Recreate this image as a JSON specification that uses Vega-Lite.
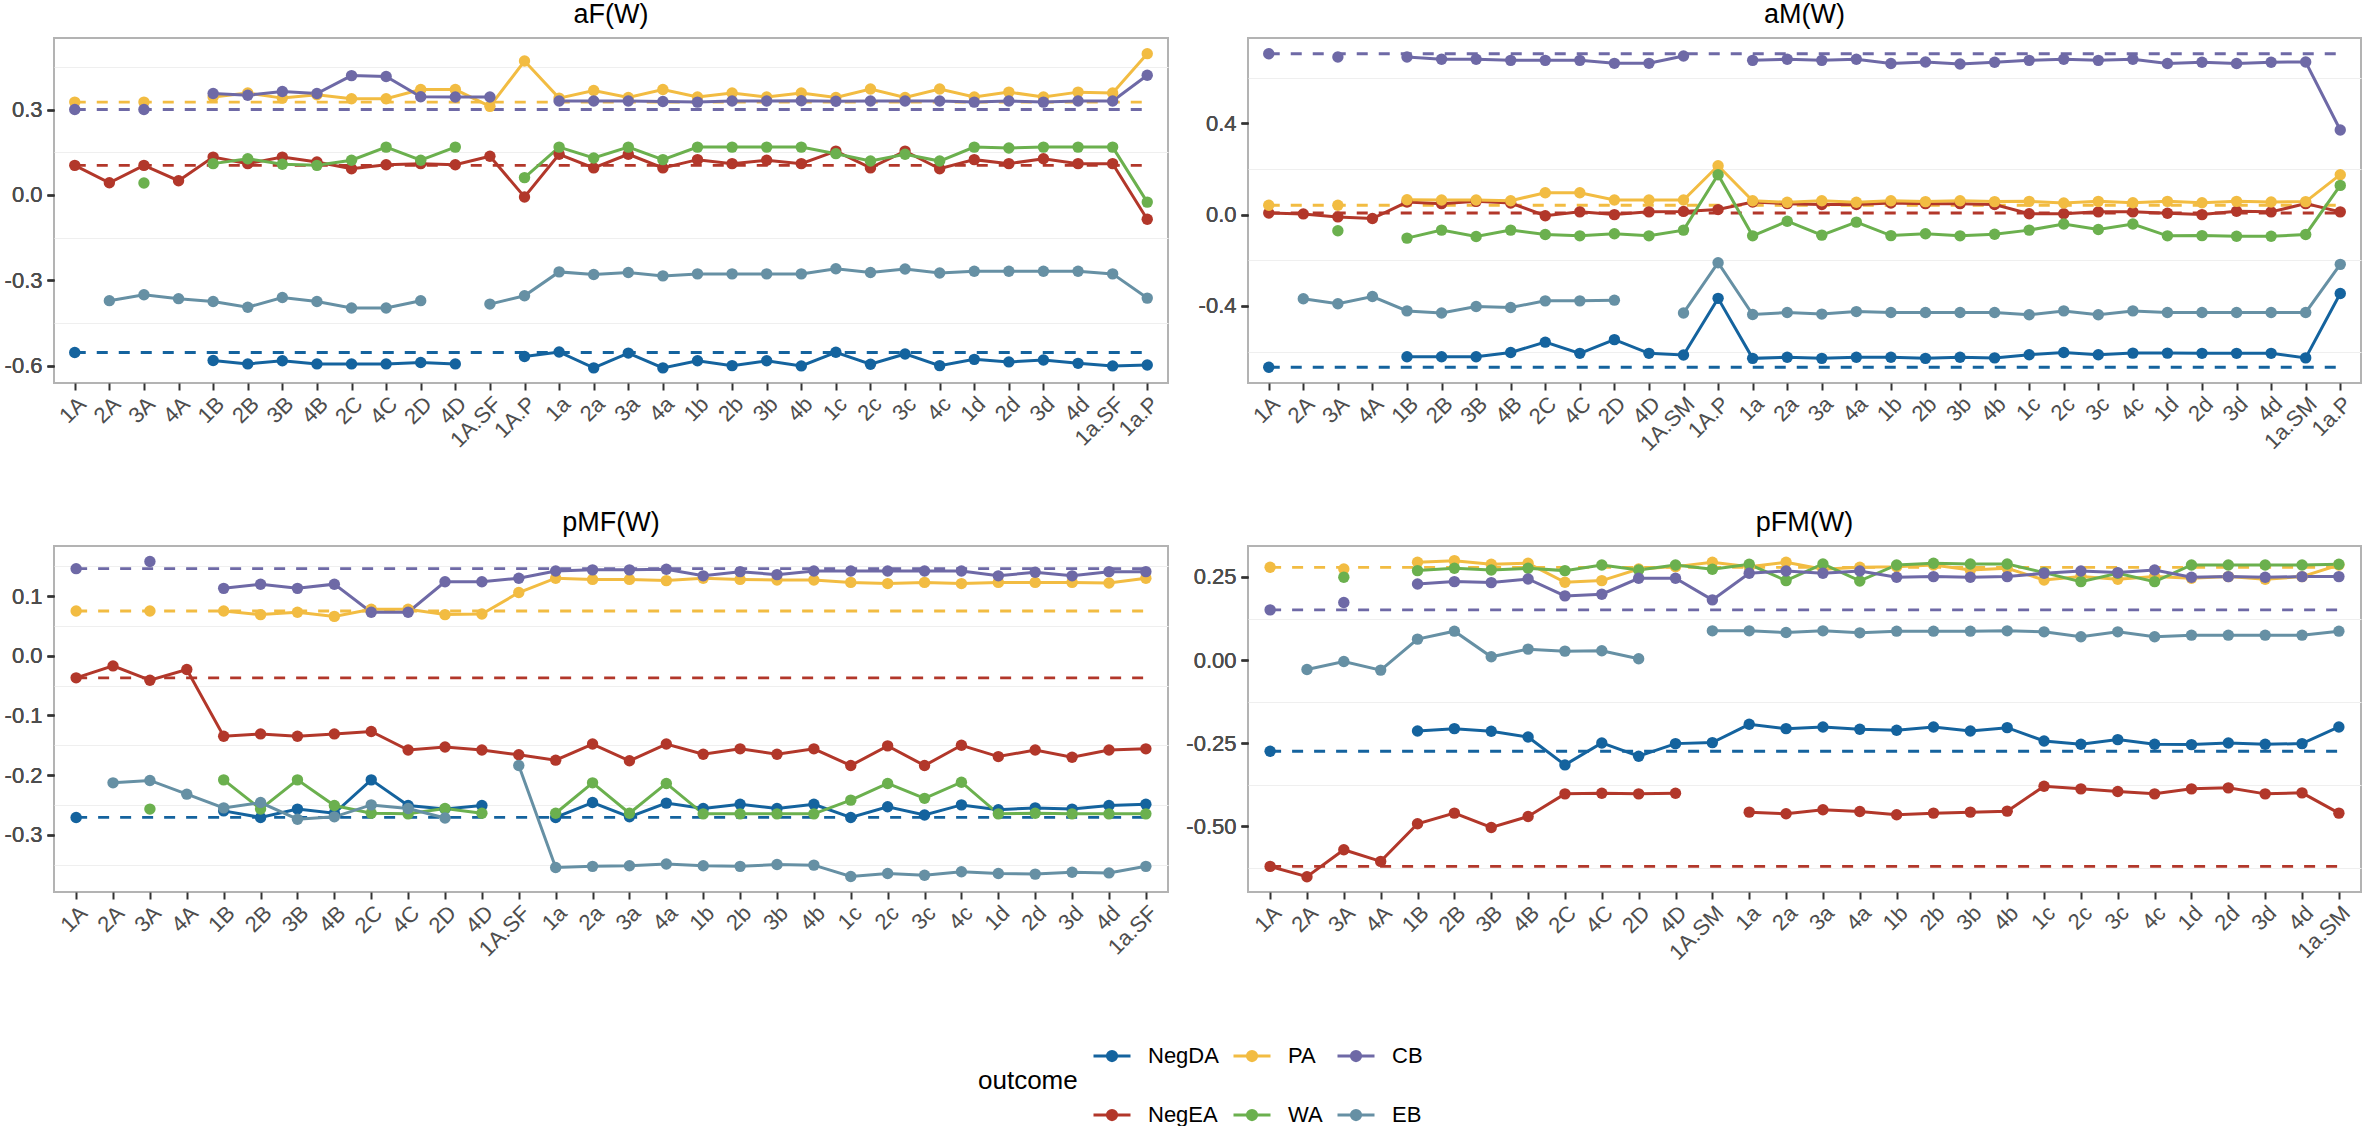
{
  "$schema": "https://vega.github.io/schema/vega-lite/v6.json",
  "background": "white",
  "padding": {"left": 3, "top": 0, "right": 0, "bottom": 0},
  "datasets": {
    "aF": [
      {"x":"1A","o":"NegDA","v":-0.553},{"x":"2A","o":"NegDA","v":null},{"x":"3A","o":"NegDA","v":null},{"x":"4A","o":"NegDA","v":null},
      {"x":"1B","o":"NegDA","v":-0.581},{"x":"2B","o":"NegDA","v":-0.593},{"x":"3B","o":"NegDA","v":-0.582},{"x":"4B","o":"NegDA","v":-0.593},
      {"x":"2C","o":"NegDA","v":-0.593},{"x":"4C","o":"NegDA","v":-0.593},{"x":"2D","o":"NegDA","v":-0.588},{"x":"4D","o":"NegDA","v":-0.593},
      {"x":"1A.SF","o":"NegDA","v":null},{"x":"1A.P","o":"NegDA","v":-0.567},{"x":"1a","o":"NegDA","v":-0.551},{"x":"2a","o":"NegDA","v":-0.607},
      {"x":"3a","o":"NegDA","v":-0.555},{"x":"4a","o":"NegDA","v":-0.607},{"x":"1b","o":"NegDA","v":-0.582},{"x":"2b","o":"NegDA","v":-0.599},
      {"x":"3b","o":"NegDA","v":-0.582},{"x":"4b","o":"NegDA","v":-0.600},{"x":"1c","o":"NegDA","v":-0.552},{"x":"2c","o":"NegDA","v":-0.594},
      {"x":"3c","o":"NegDA","v":-0.558},{"x":"4c","o":"NegDA","v":-0.599},{"x":"1d","o":"NegDA","v":-0.577},{"x":"2d","o":"NegDA","v":-0.586},
      {"x":"3d","o":"NegDA","v":-0.579},{"x":"4d","o":"NegDA","v":-0.591},{"x":"1a.SF","o":"NegDA","v":-0.600},{"x":"1a.P","o":"NegDA","v":-0.597},

      {"x":"1A","o":"NegEA","v":0.104},{"x":"2A","o":"NegEA","v":0.043},{"x":"3A","o":"NegEA","v":0.104},{"x":"4A","o":"NegEA","v":0.050},
      {"x":"1B","o":"NegEA","v":0.133},{"x":"2B","o":"NegEA","v":0.110},{"x":"3B","o":"NegEA","v":0.133},{"x":"4B","o":"NegEA","v":0.116},
      {"x":"2C","o":"NegEA","v":0.092},{"x":"4C","o":"NegEA","v":0.106},{"x":"2D","o":"NegEA","v":0.110},{"x":"4D","o":"NegEA","v":0.106},
      {"x":"1A.SF","o":"NegEA","v":0.136},{"x":"1A.P","o":"NegEA","v":-0.007},{"x":"1a","o":"NegEA","v":0.143},{"x":"2a","o":"NegEA","v":0.095},
      {"x":"3a","o":"NegEA","v":0.143},{"x":"4a","o":"NegEA","v":0.095},{"x":"1b","o":"NegEA","v":0.124},{"x":"2b","o":"NegEA","v":0.110},
      {"x":"3b","o":"NegEA","v":0.122},{"x":"4b","o":"NegEA","v":0.110},{"x":"1c","o":"NegEA","v":0.154},{"x":"2c","o":"NegEA","v":0.095},
      {"x":"3c","o":"NegEA","v":0.154},{"x":"4c","o":"NegEA","v":0.092},{"x":"1d","o":"NegEA","v":0.124},{"x":"2d","o":"NegEA","v":0.110},
      {"x":"3d","o":"NegEA","v":0.127},{"x":"4d","o":"NegEA","v":0.110},{"x":"1a.SF","o":"NegEA","v":0.110},{"x":"1a.P","o":"NegEA","v":-0.085},

      {"x":"1A","o":"PA","v":0.326},{"x":"2A","o":"PA","v":null},{"x":"3A","o":"PA","v":0.326},{"x":"4A","o":"PA","v":null},
      {"x":"1B","o":"PA","v":0.344},{"x":"2B","o":"PA","v":0.358},{"x":"3B","o":"PA","v":0.340},{"x":"4B","o":"PA","v":0.352},
      {"x":"2C","o":"PA","v":0.338},{"x":"4C","o":"PA","v":0.338},{"x":"2D","o":"PA","v":0.370},{"x":"4D","o":"PA","v":0.370},
      {"x":"1A.SF","o":"PA","v":0.311},{"x":"1A.P","o":"PA","v":0.470},{"x":"1a","o":"PA","v":0.340},{"x":"2a","o":"PA","v":0.367},
      {"x":"3a","o":"PA","v":0.342},{"x":"4a","o":"PA","v":0.370},{"x":"1b","o":"PA","v":0.344},{"x":"2b","o":"PA","v":0.358},
      {"x":"3b","o":"PA","v":0.344},{"x":"4b","o":"PA","v":0.358},{"x":"1c","o":"PA","v":0.342},{"x":"2c","o":"PA","v":0.372},
      {"x":"3c","o":"PA","v":0.342},{"x":"4c","o":"PA","v":0.372},{"x":"1d","o":"PA","v":0.344},{"x":"2d","o":"PA","v":0.361},
      {"x":"3d","o":"PA","v":0.344},{"x":"4d","o":"PA","v":0.361},{"x":"1a.SF","o":"PA","v":0.358},{"x":"1a.P","o":"PA","v":0.496},

      {"x":"1A","o":"WA","v":null},{"x":"2A","o":"WA","v":null},{"x":"3A","o":"WA","v":0.042},{"x":"4A","o":"WA","v":null},
      {"x":"1B","o":"WA","v":0.110},{"x":"2B","o":"WA","v":0.127},{"x":"3B","o":"WA","v":0.108},{"x":"4B","o":"WA","v":0.104},
      {"x":"2C","o":"WA","v":0.122},{"x":"4C","o":"WA","v":0.168},{"x":"2D","o":"WA","v":0.122},{"x":"4D","o":"WA","v":0.168},
      {"x":"1A.SF","o":"WA","v":null},{"x":"1A.P","o":"WA","v":0.061},{"x":"1a","o":"WA","v":0.168},{"x":"2a","o":"WA","v":0.130},
      {"x":"3a","o":"WA","v":0.168},{"x":"4a","o":"WA","v":0.124},{"x":"1b","o":"WA","v":0.168},{"x":"2b","o":"WA","v":0.168},
      {"x":"3b","o":"WA","v":0.168},{"x":"4b","o":"WA","v":0.168},{"x":"1c","o":"WA","v":0.145},{"x":"2c","o":"WA","v":0.119},
      {"x":"3c","o":"WA","v":0.143},{"x":"4c","o":"WA","v":0.119},{"x":"1d","o":"WA","v":0.168},{"x":"2d","o":"WA","v":0.165},
      {"x":"3d","o":"WA","v":0.168},{"x":"4d","o":"WA","v":0.168},{"x":"1a.SF","o":"WA","v":0.168},{"x":"1a.P","o":"WA","v":-0.025},

      {"x":"1A","o":"CB","v":0.300},{"x":"2A","o":"CB","v":null},{"x":"3A","o":"CB","v":0.300},{"x":"4A","o":"CB","v":null},
      {"x":"1B","o":"CB","v":0.356},{"x":"2B","o":"CB","v":0.350},{"x":"3B","o":"CB","v":0.363},{"x":"4B","o":"CB","v":0.356},
      {"x":"2C","o":"CB","v":0.419},{"x":"4C","o":"CB","v":0.416},{"x":"2D","o":"CB","v":0.345},{"x":"4D","o":"CB","v":0.344},
      {"x":"1A.SF","o":"CB","v":0.344},{"x":"1A.P","o":"CB","v":null},{"x":"1a","o":"CB","v":0.330},{"x":"2a","o":"CB","v":0.330},
      {"x":"3a","o":"CB","v":0.330},{"x":"4a","o":"CB","v":0.328},{"x":"1b","o":"CB","v":0.326},{"x":"2b","o":"CB","v":0.330},
      {"x":"3b","o":"CB","v":0.330},{"x":"4b","o":"CB","v":0.331},{"x":"1c","o":"CB","v":0.329},{"x":"2c","o":"CB","v":0.330},
      {"x":"3c","o":"CB","v":0.330},{"x":"4c","o":"CB","v":0.330},{"x":"1d","o":"CB","v":0.326},{"x":"2d","o":"CB","v":0.330},
      {"x":"3d","o":"CB","v":0.326},{"x":"4d","o":"CB","v":0.330},{"x":"1a.SF","o":"CB","v":0.330},{"x":"1a.P","o":"CB","v":0.420},

      {"x":"1A","o":"EB","v":null},{"x":"2A","o":"EB","v":-0.371},{"x":"3A","o":"EB","v":-0.350},{"x":"4A","o":"EB","v":-0.364},
      {"x":"1B","o":"EB","v":-0.374},{"x":"2B","o":"EB","v":-0.394},{"x":"3B","o":"EB","v":-0.360},{"x":"4B","o":"EB","v":-0.374},
      {"x":"2C","o":"EB","v":-0.397},{"x":"4C","o":"EB","v":-0.397},{"x":"2D","o":"EB","v":-0.371},{"x":"4D","o":"EB","v":null},
      {"x":"1A.SF","o":"EB","v":-0.383},{"x":"1A.P","o":"EB","v":-0.354},{"x":"1a","o":"EB","v":-0.270},{"x":"2a","o":"EB","v":-0.279},
      {"x":"3a","o":"EB","v":-0.272},{"x":"4a","o":"EB","v":-0.284},{"x":"1b","o":"EB","v":-0.277},{"x":"2b","o":"EB","v":-0.277},
      {"x":"3b","o":"EB","v":-0.277},{"x":"4b","o":"EB","v":-0.277},{"x":"1c","o":"EB","v":-0.259},{"x":"2c","o":"EB","v":-0.272},
      {"x":"3c","o":"EB","v":-0.260},{"x":"4c","o":"EB","v":-0.274},{"x":"1d","o":"EB","v":-0.268},{"x":"2d","o":"EB","v":-0.268},
      {"x":"3d","o":"EB","v":-0.268},{"x":"4d","o":"EB","v":-0.268},{"x":"1a.SF","o":"EB","v":-0.277},{"x":"1a.P","o":"EB","v":-0.362}
    ],
    "aM": [
      {"x":"1A","o":"NegDA","v":-0.669},{"x":"2A","o":"NegDA","v":null},{"x":"3A","o":"NegDA","v":null},{"x":"4A","o":"NegDA","v":null},
      {"x":"1B","o":"NegDA","v":-0.623},{"x":"2B","o":"NegDA","v":-0.623},{"x":"3B","o":"NegDA","v":-0.623},{"x":"4B","o":"NegDA","v":-0.604},
      {"x":"2C","o":"NegDA","v":-0.559},{"x":"4C","o":"NegDA","v":-0.608},{"x":"2D","o":"NegDA","v":-0.548},{"x":"4D","o":"NegDA","v":-0.608},
      {"x":"1A.SM","o":"NegDA","v":-0.615},{"x":"1A.P","o":"NegDA","v":-0.367},{"x":"1a","o":"NegDA","v":-0.630},{"x":"2a","o":"NegDA","v":-0.625},
      {"x":"3a","o":"NegDA","v":-0.630},{"x":"4a","o":"NegDA","v":-0.625},{"x":"1b","o":"NegDA","v":-0.625},{"x":"2b","o":"NegDA","v":-0.630},
      {"x":"3b","o":"NegDA","v":-0.625},{"x":"4b","o":"NegDA","v":-0.628},{"x":"1c","o":"NegDA","v":-0.614},{"x":"2c","o":"NegDA","v":-0.604},
      {"x":"3c","o":"NegDA","v":-0.614},{"x":"4c","o":"NegDA","v":-0.607},{"x":"1d","o":"NegDA","v":-0.607},{"x":"2d","o":"NegDA","v":-0.608},
      {"x":"3d","o":"NegDA","v":-0.608},{"x":"4d","o":"NegDA","v":-0.608},{"x":"1a.SM","o":"NegDA","v":-0.628},{"x":"1a.P","o":"NegDA","v":-0.346},

      {"x":"1A","o":"NegEA","v":0.007},{"x":"2A","o":"NegEA","v":0.003},{"x":"3A","o":"NegEA","v":-0.010},{"x":"4A","o":"NegEA","v":-0.017},
      {"x":"1B","o":"NegEA","v":0.055},{"x":"2B","o":"NegEA","v":0.048},{"x":"3B","o":"NegEA","v":0.058},{"x":"4B","o":"NegEA","v":0.051},
      {"x":"2C","o":"NegEA","v":-0.005},{"x":"4C","o":"NegEA","v":0.012},{"x":"2D","o":"NegEA","v":0.000},{"x":"4D","o":"NegEA","v":0.012},
      {"x":"1A.SM","o":"NegEA","v":0.014},{"x":"1A.P","o":"NegEA","v":0.022},{"x":"1a","o":"NegEA","v":0.055},{"x":"2a","o":"NegEA","v":0.048},
      {"x":"3a","o":"NegEA","v":0.044},{"x":"4a","o":"NegEA","v":0.044},{"x":"1b","o":"NegEA","v":0.051},{"x":"2b","o":"NegEA","v":0.048},
      {"x":"3b","o":"NegEA","v":0.048},{"x":"4b","o":"NegEA","v":0.044},{"x":"1c","o":"NegEA","v":0.004},{"x":"2c","o":"NegEA","v":0.004},
      {"x":"3c","o":"NegEA","v":0.012},{"x":"4c","o":"NegEA","v":0.012},{"x":"1d","o":"NegEA","v":0.006},{"x":"2d","o":"NegEA","v":0.000},
      {"x":"3d","o":"NegEA","v":0.015},{"x":"4d","o":"NegEA","v":0.012},{"x":"1a.SM","o":"NegEA","v":0.048},{"x":"1a.P","o":"NegEA","v":0.012},

      {"x":"1A","o":"PA","v":0.041},{"x":"2A","o":"PA","v":null},{"x":"3A","o":"PA","v":0.041},{"x":"4A","o":"PA","v":null},
      {"x":"1B","o":"PA","v":0.065},{"x":"2B","o":"PA","v":0.064},{"x":"3B","o":"PA","v":0.064},{"x":"4B","o":"PA","v":0.061},
      {"x":"2C","o":"PA","v":0.096},{"x":"4C","o":"PA","v":0.096},{"x":"2D","o":"PA","v":0.064},{"x":"4D","o":"PA","v":0.064},
      {"x":"1A.SM","o":"PA","v":0.064},{"x":"1A.P","o":"PA","v":0.214},{"x":"1a","o":"PA","v":0.061},{"x":"2a","o":"PA","v":0.054},
      {"x":"3a","o":"PA","v":0.061},{"x":"4a","o":"PA","v":0.054},{"x":"1b","o":"PA","v":0.061},{"x":"2b","o":"PA","v":0.057},
      {"x":"3b","o":"PA","v":0.061},{"x":"4b","o":"PA","v":0.057},{"x":"1c","o":"PA","v":0.058},{"x":"2c","o":"PA","v":0.051},
      {"x":"3c","o":"PA","v":0.058},{"x":"4c","o":"PA","v":0.052},{"x":"1d","o":"PA","v":0.058},{"x":"2d","o":"PA","v":0.052},
      {"x":"3d","o":"PA","v":0.058},{"x":"4d","o":"PA","v":0.055},{"x":"1a.SM","o":"PA","v":0.057},{"x":"1a.P","o":"PA","v":0.175},

      {"x":"1A","o":"WA","v":null},{"x":"2A","o":"WA","v":null},{"x":"3A","o":"WA","v":-0.071},{"x":"4A","o":"WA","v":null},
      {"x":"1B","o":"WA","v":-0.103},{"x":"2B","o":"WA","v":-0.068},{"x":"3B","o":"WA","v":-0.096},{"x":"4B","o":"WA","v":-0.068},
      {"x":"2C","o":"WA","v":-0.087},{"x":"4C","o":"WA","v":-0.093},{"x":"2D","o":"WA","v":-0.084},{"x":"4D","o":"WA","v":-0.093},
      {"x":"1A.SM","o":"WA","v":-0.068},{"x":"1A.P","o":"WA","v":0.175},{"x":"1a","o":"WA","v":-0.093},{"x":"2a","o":"WA","v":-0.029},
      {"x":"3a","o":"WA","v":-0.090},{"x":"4a","o":"WA","v":-0.033},{"x":"1b","o":"WA","v":-0.092},{"x":"2b","o":"WA","v":-0.084},
      {"x":"3b","o":"WA","v":-0.093},{"x":"4b","o":"WA","v":-0.086},{"x":"1c","o":"WA","v":-0.068},{"x":"2c","o":"WA","v":-0.041},
      {"x":"3c","o":"WA","v":-0.065},{"x":"4c","o":"WA","v":-0.041},{"x":"1d","o":"WA","v":-0.093},{"x":"2d","o":"WA","v":-0.092},
      {"x":"3d","o":"WA","v":-0.095},{"x":"4d","o":"WA","v":-0.095},{"x":"1a.SM","o":"WA","v":-0.087},{"x":"1a.P","o":"WA","v":0.128},

      {"x":"1A","o":"CB","v":0.705},{"x":"2A","o":"CB","v":null},{"x":"3A","o":"CB","v":0.691},{"x":"4A","o":"CB","v":null},
      {"x":"1B","o":"CB","v":0.691},{"x":"2B","o":"CB","v":0.681},{"x":"3B","o":"CB","v":0.681},{"x":"4B","o":"CB","v":0.676},
      {"x":"2C","o":"CB","v":0.676},{"x":"4C","o":"CB","v":0.676},{"x":"2D","o":"CB","v":0.663},{"x":"4D","o":"CB","v":0.663},
      {"x":"1A.SM","o":"CB","v":0.695},{"x":"1A.P","o":"CB","v":null},{"x":"1a","o":"CB","v":0.676},{"x":"2a","o":"CB","v":0.681},
      {"x":"3a","o":"CB","v":0.676},{"x":"4a","o":"CB","v":0.681},{"x":"1b","o":"CB","v":0.662},{"x":"2b","o":"CB","v":0.669},
      {"x":"3b","o":"CB","v":0.660},{"x":"4b","o":"CB","v":0.668},{"x":"1c","o":"CB","v":0.676},{"x":"2c","o":"CB","v":0.681},
      {"x":"3c","o":"CB","v":0.676},{"x":"4c","o":"CB","v":0.681},{"x":"1d","o":"CB","v":0.662},{"x":"2d","o":"CB","v":0.668},
      {"x":"3d","o":"CB","v":0.662},{"x":"4d","o":"CB","v":0.668},{"x":"1a.SM","o":"CB","v":0.669},{"x":"1a.P","o":"CB","v":0.371},

      {"x":"1A","o":"EB","v":null},{"x":"2A","o":"EB","v":-0.369},{"x":"3A","o":"EB","v":-0.391},{"x":"4A","o":"EB","v":-0.359},
      {"x":"1B","o":"EB","v":-0.422},{"x":"2B","o":"EB","v":-0.431},{"x":"3B","o":"EB","v":-0.403},{"x":"4B","o":"EB","v":-0.407},
      {"x":"2C","o":"EB","v":-0.378},{"x":"4C","o":"EB","v":-0.378},{"x":"2D","o":"EB","v":-0.375},{"x":"4D","o":"EB","v":null},
      {"x":"1A.SM","o":"EB","v":-0.431},{"x":"1A.P","o":"EB","v":-0.211},{"x":"1a","o":"EB","v":-0.438},{"x":"2a","o":"EB","v":-0.429},
      {"x":"3a","o":"EB","v":-0.436},{"x":"4a","o":"EB","v":-0.425},{"x":"1b","o":"EB","v":-0.429},{"x":"2b","o":"EB","v":-0.429},
      {"x":"3b","o":"EB","v":-0.429},{"x":"4b","o":"EB","v":-0.429},{"x":"1c","o":"EB","v":-0.439},{"x":"2c","o":"EB","v":-0.422},
      {"x":"3c","o":"EB","v":-0.439},{"x":"4c","o":"EB","v":-0.422},{"x":"1d","o":"EB","v":-0.429},{"x":"2d","o":"EB","v":-0.429},
      {"x":"3d","o":"EB","v":-0.429},{"x":"4d","o":"EB","v":-0.429},{"x":"1a.SM","o":"EB","v":-0.429},{"x":"1a.P","o":"EB","v":-0.218}
    ],
    "pMF": [
      {"x":"1A","o":"NegDA","v":-0.271},{"x":"2A","o":"NegDA","v":null},{"x":"3A","o":"NegDA","v":null},{"x":"4A","o":"NegDA","v":null},
      {"x":"1B","o":"NegDA","v":-0.260},{"x":"2B","o":"NegDA","v":-0.271},{"x":"3B","o":"NegDA","v":-0.257},{"x":"4B","o":"NegDA","v":-0.264},
      {"x":"2C","o":"NegDA","v":-0.208},{"x":"4C","o":"NegDA","v":-0.251},{"x":"2D","o":"NegDA","v":-0.257},{"x":"4D","o":"NegDA","v":-0.251},
      {"x":"1A.SF","o":"NegDA","v":null},{"x":"1a","o":"NegDA","v":-0.271},{"x":"2a","o":"NegDA","v":-0.246},{"x":"3a","o":"NegDA","v":-0.270},
      {"x":"4a","o":"NegDA","v":-0.247},{"x":"1b","o":"NegDA","v":-0.256},{"x":"2b","o":"NegDA","v":-0.249},{"x":"3b","o":"NegDA","v":-0.256},
      {"x":"4b","o":"NegDA","v":-0.249},{"x":"1c","o":"NegDA","v":-0.271},{"x":"2c","o":"NegDA","v":-0.253},{"x":"3c","o":"NegDA","v":-0.267},
      {"x":"4c","o":"NegDA","v":-0.250},{"x":"1d","o":"NegDA","v":-0.258},{"x":"2d","o":"NegDA","v":-0.255},{"x":"3d","o":"NegDA","v":-0.257},
      {"x":"4d","o":"NegDA","v":-0.251},{"x":"1a.SF","o":"NegDA","v":-0.249},

      {"x":"1A","o":"NegEA","v":-0.037},{"x":"2A","o":"NegEA","v":-0.017},{"x":"3A","o":"NegEA","v":-0.041},{"x":"4A","o":"NegEA","v":-0.023},
      {"x":"1B","o":"NegEA","v":-0.135},{"x":"2B","o":"NegEA","v":-0.131},{"x":"3B","o":"NegEA","v":-0.135},{"x":"4B","o":"NegEA","v":-0.131},
      {"x":"2C","o":"NegEA","v":-0.127},{"x":"4C","o":"NegEA","v":-0.158},{"x":"2D","o":"NegEA","v":-0.153},{"x":"4D","o":"NegEA","v":-0.158},
      {"x":"1A.SF","o":"NegEA","v":-0.166},{"x":"1a","o":"NegEA","v":-0.175},{"x":"2a","o":"NegEA","v":-0.148},{"x":"3a","o":"NegEA","v":-0.176},
      {"x":"4a","o":"NegEA","v":-0.148},{"x":"1b","o":"NegEA","v":-0.165},{"x":"2b","o":"NegEA","v":-0.156},{"x":"3b","o":"NegEA","v":-0.165},
      {"x":"4b","o":"NegEA","v":-0.156},{"x":"1c","o":"NegEA","v":-0.184},{"x":"2c","o":"NegEA","v":-0.151},{"x":"3c","o":"NegEA","v":-0.184},
      {"x":"4c","o":"NegEA","v":-0.150},{"x":"1d","o":"NegEA","v":-0.169},{"x":"2d","o":"NegEA","v":-0.158},{"x":"3d","o":"NegEA","v":-0.170},
      {"x":"4d","o":"NegEA","v":-0.158},{"x":"1a.SF","o":"NegEA","v":-0.156},

      {"x":"1A","o":"PA","v":0.075},{"x":"2A","o":"PA","v":null},{"x":"3A","o":"PA","v":0.075},{"x":"4A","o":"PA","v":null},
      {"x":"1B","o":"PA","v":0.075},{"x":"2B","o":"PA","v":0.069},{"x":"3B","o":"PA","v":0.073},{"x":"4B","o":"PA","v":0.066},
      {"x":"2C","o":"PA","v":0.078},{"x":"4C","o":"PA","v":0.078},{"x":"2D","o":"PA","v":0.069},{"x":"4D","o":"PA","v":0.070},
      {"x":"1A.SF","o":"PA","v":0.106},{"x":"1a","o":"PA","v":0.130},{"x":"2a","o":"PA","v":0.128},{"x":"3a","o":"PA","v":0.128},
      {"x":"4a","o":"PA","v":0.126},{"x":"1b","o":"PA","v":0.130},{"x":"2b","o":"PA","v":0.128},{"x":"3b","o":"PA","v":0.127},
      {"x":"4b","o":"PA","v":0.127},{"x":"1c","o":"PA","v":0.123},{"x":"2c","o":"PA","v":0.121},{"x":"3c","o":"PA","v":0.123},
      {"x":"4c","o":"PA","v":0.121},{"x":"1d","o":"PA","v":0.123},{"x":"2d","o":"PA","v":0.123},{"x":"3d","o":"PA","v":0.123},
      {"x":"4d","o":"PA","v":0.122},{"x":"1a.SF","o":"PA","v":0.130},

      {"x":"1A","o":"WA","v":null},{"x":"2A","o":"WA","v":null},{"x":"3A","o":"WA","v":-0.257},{"x":"4A","o":"WA","v":null},
      {"x":"1B","o":"WA","v":-0.208},{"x":"2B","o":"WA","v":-0.257},{"x":"3B","o":"WA","v":-0.208},{"x":"4B","o":"WA","v":-0.251},
      {"x":"2C","o":"WA","v":-0.264},{"x":"4C","o":"WA","v":-0.265},{"x":"2D","o":"WA","v":-0.256},{"x":"4D","o":"WA","v":-0.264},
      {"x":"1A.SF","o":"WA","v":null},{"x":"1a","o":"WA","v":-0.264},{"x":"2a","o":"WA","v":-0.213},{"x":"3a","o":"WA","v":-0.264},
      {"x":"4a","o":"WA","v":-0.214},{"x":"1b","o":"WA","v":-0.265},{"x":"2b","o":"WA","v":-0.265},{"x":"3b","o":"WA","v":-0.265},
      {"x":"4b","o":"WA","v":-0.265},{"x":"1c","o":"WA","v":-0.242},{"x":"2c","o":"WA","v":-0.214},{"x":"3c","o":"WA","v":-0.239},
      {"x":"4c","o":"WA","v":-0.212},{"x":"1d","o":"WA","v":-0.265},{"x":"2d","o":"WA","v":-0.264},{"x":"3d","o":"WA","v":-0.265},
      {"x":"4d","o":"WA","v":-0.265},{"x":"1a.SF","o":"WA","v":-0.265},

      {"x":"1A","o":"CB","v":0.146},{"x":"2A","o":"CB","v":null},{"x":"3A","o":"CB","v":0.158},{"x":"4A","o":"CB","v":null},
      {"x":"1B","o":"CB","v":0.113},{"x":"2B","o":"CB","v":0.120},{"x":"3B","o":"CB","v":0.113},{"x":"4B","o":"CB","v":0.120},
      {"x":"2C","o":"CB","v":0.073},{"x":"4C","o":"CB","v":0.073},{"x":"2D","o":"CB","v":0.124},{"x":"4D","o":"CB","v":0.124},
      {"x":"1A.SF","o":"CB","v":0.130},{"x":"1a","o":"CB","v":0.142},{"x":"2a","o":"CB","v":0.144},{"x":"3a","o":"CB","v":0.144},
      {"x":"4a","o":"CB","v":0.145},{"x":"1b","o":"CB","v":0.134},{"x":"2b","o":"CB","v":0.141},{"x":"3b","o":"CB","v":0.136},
      {"x":"4b","o":"CB","v":0.142},{"x":"1c","o":"CB","v":0.142},{"x":"2c","o":"CB","v":0.142},{"x":"3c","o":"CB","v":0.142},
      {"x":"4c","o":"CB","v":0.142},{"x":"1d","o":"CB","v":0.134},{"x":"2d","o":"CB","v":0.140},{"x":"3d","o":"CB","v":0.134},
      {"x":"4d","o":"CB","v":0.141},{"x":"1a.SF","o":"CB","v":0.141},

      {"x":"1A","o":"EB","v":null},{"x":"2A","o":"EB","v":-0.213},{"x":"3A","o":"EB","v":-0.209},{"x":"4A","o":"EB","v":-0.232},
      {"x":"1B","o":"EB","v":-0.255},{"x":"2B","o":"EB","v":-0.246},{"x":"3B","o":"EB","v":-0.274},{"x":"4B","o":"EB","v":-0.270},
      {"x":"2C","o":"EB","v":-0.250},{"x":"4C","o":"EB","v":-0.256},{"x":"2D","o":"EB","v":-0.272},{"x":"4D","o":"EB","v":null},
      {"x":"1A.SF","o":"EB","v":-0.184},{"x":"1a","o":"EB","v":-0.355},{"x":"2a","o":"EB","v":-0.353},{"x":"3a","o":"EB","v":-0.352},
      {"x":"4a","o":"EB","v":-0.349},{"x":"1b","o":"EB","v":-0.352},{"x":"2b","o":"EB","v":-0.353},{"x":"3b","o":"EB","v":-0.350},
      {"x":"4b","o":"EB","v":-0.351},{"x":"1c","o":"EB","v":-0.370},{"x":"2c","o":"EB","v":-0.365},{"x":"3c","o":"EB","v":-0.368},
      {"x":"4c","o":"EB","v":-0.362},{"x":"1d","o":"EB","v":-0.365},{"x":"2d","o":"EB","v":-0.366},{"x":"3d","o":"EB","v":-0.363},
      {"x":"4d","o":"EB","v":-0.364},{"x":"1a.SF","o":"EB","v":-0.353}
    ],
    "pFM": [
      {"x":"1A","o":"NegDA","v":-0.274},{"x":"2A","o":"NegDA","v":null},{"x":"3A","o":"NegDA","v":null},{"x":"4A","o":"NegDA","v":null},
      {"x":"1B","o":"NegDA","v":-0.213},{"x":"2B","o":"NegDA","v":-0.206},{"x":"3B","o":"NegDA","v":-0.214},{"x":"4B","o":"NegDA","v":-0.231},
      {"x":"2C","o":"NegDA","v":-0.315},{"x":"4C","o":"NegDA","v":-0.249},{"x":"2D","o":"NegDA","v":-0.289},{"x":"4D","o":"NegDA","v":-0.251},
      {"x":"1A.SM","o":"NegDA","v":-0.248},{"x":"1a","o":"NegDA","v":-0.193},{"x":"2a","o":"NegDA","v":-0.206},{"x":"3a","o":"NegDA","v":-0.201},
      {"x":"4a","o":"NegDA","v":-0.208},{"x":"1b","o":"NegDA","v":-0.211},{"x":"2b","o":"NegDA","v":-0.201},{"x":"3b","o":"NegDA","v":-0.213},
      {"x":"4b","o":"NegDA","v":-0.203},{"x":"1c","o":"NegDA","v":-0.243},{"x":"2c","o":"NegDA","v":-0.253},{"x":"3c","o":"NegDA","v":-0.239},
      {"x":"4c","o":"NegDA","v":-0.253},{"x":"1d","o":"NegDA","v":-0.254},{"x":"2d","o":"NegDA","v":-0.249},{"x":"3d","o":"NegDA","v":-0.253},
      {"x":"4d","o":"NegDA","v":-0.251},{"x":"1a.SM","o":"NegDA","v":-0.201},

      {"x":"1A","o":"NegEA","v":-0.620},{"x":"2A","o":"NegEA","v":-0.651},{"x":"3A","o":"NegEA","v":-0.570},{"x":"4A","o":"NegEA","v":-0.605},
      {"x":"1B","o":"NegEA","v":-0.492},{"x":"2B","o":"NegEA","v":-0.460},{"x":"3B","o":"NegEA","v":-0.503},{"x":"4B","o":"NegEA","v":-0.470},
      {"x":"2C","o":"NegEA","v":-0.402},{"x":"4C","o":"NegEA","v":-0.400},{"x":"2D","o":"NegEA","v":-0.402},{"x":"4D","o":"NegEA","v":-0.400},
      {"x":"1A.SM","o":"NegEA","v":null},{"x":"1a","o":"NegEA","v":-0.457},{"x":"2a","o":"NegEA","v":-0.462},{"x":"3a","o":"NegEA","v":-0.450},
      {"x":"4a","o":"NegEA","v":-0.455},{"x":"1b","o":"NegEA","v":-0.465},{"x":"2b","o":"NegEA","v":-0.460},{"x":"3b","o":"NegEA","v":-0.457},
      {"x":"4b","o":"NegEA","v":-0.454},{"x":"1c","o":"NegEA","v":-0.379},{"x":"2c","o":"NegEA","v":-0.387},{"x":"3c","o":"NegEA","v":-0.395},
      {"x":"4c","o":"NegEA","v":-0.402},{"x":"1d","o":"NegEA","v":-0.387},{"x":"2d","o":"NegEA","v":-0.384},{"x":"3d","o":"NegEA","v":-0.402},
      {"x":"4d","o":"NegEA","v":-0.399},{"x":"1a.SM","o":"NegEA","v":-0.460},

      {"x":"1A","o":"PA","v":0.279},{"x":"2A","o":"PA","v":null},{"x":"3A","o":"PA","v":0.274},{"x":"4A","o":"PA","v":null},
      {"x":"1B","o":"PA","v":0.294},{"x":"2B","o":"PA","v":0.299},{"x":"3B","o":"PA","v":0.288},{"x":"4B","o":"PA","v":0.291},
      {"x":"2C","o":"PA","v":0.234},{"x":"4C","o":"PA","v":0.239},{"x":"2D","o":"PA","v":0.274},{"x":"4D","o":"PA","v":0.281},
      {"x":"1A.SM","o":"PA","v":0.294},{"x":"1a","o":"PA","v":0.281},{"x":"2a","o":"PA","v":0.294},{"x":"3a","o":"PA","v":0.273},
      {"x":"4a","o":"PA","v":0.279},{"x":"1b","o":"PA","v":0.281},{"x":"2b","o":"PA","v":0.286},{"x":"3b","o":"PA","v":0.271},
      {"x":"4b","o":"PA","v":0.276},{"x":"1c","o":"PA","v":0.241},{"x":"2c","o":"PA","v":0.251},{"x":"3c","o":"PA","v":0.243},
      {"x":"4c","o":"PA","v":0.251},{"x":"1d","o":"PA","v":0.246},{"x":"2d","o":"PA","v":0.251},{"x":"3d","o":"PA","v":0.243},
      {"x":"4d","o":"PA","v":0.251},{"x":"1a.SM","o":"PA","v":0.286},

      {"x":"1A","o":"WA","v":null},{"x":"2A","o":"WA","v":null},{"x":"3A","o":"WA","v":0.249},{"x":"4A","o":"WA","v":null},
      {"x":"1B","o":"WA","v":0.269},{"x":"2B","o":"WA","v":0.276},{"x":"3B","o":"WA","v":0.271},{"x":"4B","o":"WA","v":0.276},
      {"x":"2C","o":"WA","v":0.269},{"x":"4C","o":"WA","v":0.286},{"x":"2D","o":"WA","v":0.271},{"x":"4D","o":"WA","v":0.286},
      {"x":"1A.SM","o":"WA","v":0.273},{"x":"1a","o":"WA","v":0.288},{"x":"2a","o":"WA","v":0.239},{"x":"3a","o":"WA","v":0.289},
      {"x":"4a","o":"WA","v":0.238},{"x":"1b","o":"WA","v":0.286},{"x":"2b","o":"WA","v":0.291},{"x":"3b","o":"WA","v":0.289},
      {"x":"4b","o":"WA","v":0.289},{"x":"1c","o":"WA","v":0.263},{"x":"2c","o":"WA","v":0.236},{"x":"3c","o":"WA","v":0.261},
      {"x":"4c","o":"WA","v":0.236},{"x":"1d","o":"WA","v":0.286},{"x":"2d","o":"WA","v":0.286},{"x":"3d","o":"WA","v":0.286},
      {"x":"4d","o":"WA","v":0.286},{"x":"1a.SM","o":"WA","v":0.288},

      {"x":"1A","o":"CB","v":0.151},{"x":"2A","o":"CB","v":null},{"x":"3A","o":"CB","v":0.173},{"x":"4A","o":"CB","v":null},
      {"x":"1B","o":"CB","v":0.229},{"x":"2B","o":"CB","v":0.236},{"x":"3B","o":"CB","v":0.233},{"x":"4B","o":"CB","v":0.244},
      {"x":"2C","o":"CB","v":0.193},{"x":"4C","o":"CB","v":0.198},{"x":"2D","o":"CB","v":0.246},{"x":"4D","o":"CB","v":0.246},
      {"x":"1A.SM","o":"CB","v":0.181},{"x":"1a","o":"CB","v":0.261},{"x":"2a","o":"CB","v":0.268},{"x":"3a","o":"CB","v":0.261},
      {"x":"4a","o":"CB","v":0.268},{"x":"1b","o":"CB","v":0.249},{"x":"2b","o":"CB","v":0.251},{"x":"3b","o":"CB","v":0.249},
      {"x":"4b","o":"CB","v":0.251},{"x":"1c","o":"CB","v":0.261},{"x":"2c","o":"CB","v":0.268},{"x":"3c","o":"CB","v":0.263},
      {"x":"4c","o":"CB","v":0.271},{"x":"1d","o":"CB","v":0.249},{"x":"2d","o":"CB","v":0.251},{"x":"3d","o":"CB","v":0.249},
      {"x":"4d","o":"CB","v":0.251},{"x":"1a.SM","o":"CB","v":0.251},

      {"x":"1A","o":"EB","v":null},{"x":"2A","o":"EB","v":-0.028},{"x":"3A","o":"EB","v":-0.004},{"x":"4A","o":"EB","v":-0.030},
      {"x":"1B","o":"EB","v":0.063},{"x":"2B","o":"EB","v":0.087},{"x":"3B","o":"EB","v":0.010},{"x":"4B","o":"EB","v":0.033},
      {"x":"2C","o":"EB","v":0.027},{"x":"4C","o":"EB","v":0.028},{"x":"2D","o":"EB","v":0.004},{"x":"4D","o":"EB","v":null},
      {"x":"1A.SM","o":"EB","v":0.088},{"x":"1a","o":"EB","v":0.088},{"x":"2a","o":"EB","v":0.083},{"x":"3a","o":"EB","v":0.088},
      {"x":"4a","o":"EB","v":0.082},{"x":"1b","o":"EB","v":0.087},{"x":"2b","o":"EB","v":0.087},{"x":"3b","o":"EB","v":0.087},
      {"x":"4b","o":"EB","v":0.088},{"x":"1c","o":"EB","v":0.085},{"x":"2c","o":"EB","v":0.070},{"x":"3c","o":"EB","v":0.085},
      {"x":"4c","o":"EB","v":0.070},{"x":"1d","o":"EB","v":0.075},{"x":"2d","o":"EB","v":0.075},{"x":"3d","o":"EB","v":0.075},
      {"x":"4d","o":"EB","v":0.075},{"x":"1a.SM","o":"EB","v":0.087}
    ]
  },
  "columns": 2,
  "spacing": {"row": 163, "column": 80},
  "bounds": "flush",
  "concat": [
    {
      "data": {"name": "aF"},
      "title": {"text": "aF(W)", "fontWeight": 400},
      "width": 1114,
      "height": 345,
      "encoding": {
        "x": {"field": "x", "type": "ordinal", "sort": ["1A","2A","3A","4A","1B","2B","3B","4B","2C","4C","2D","4D","1A.SF","1A.P","1a","2a","3a","4a","1b","2b","3b","4b","1c","2c","3c","4c","1d","2d","3d","4d","1a.SF","1a.P"], "scale": {"type": "point", "padding": 0.6}, "axis": {"title": null}},
        "y": {"field": "v", "type": "quantitative", "scale": {"domain": [-0.66, 0.551], "nice": false, "zero": false}, "axis": {"title": null, "orient": "left", "values": [-0.6, -0.3, 0, 0.3], "labelExpr": "replace(format(datum.value, '.1f'), '\u2212', '-')"}},
        "color": {"field": "o", "type": "nominal", "scale": {"domain": ["NegDA","NegEA","PA","WA","CB","EB"], "range": ["#14639E","#B2372A","#F2BC42","#6BB04E","#6E69A6","#6690A4"]}, "legend": {"orient": "none", "legendX": 924, "legendY": 998, "title": "outcome", "encode": {"symbols": {"update": {"fill": {"scale": "color", "field": "value"}, "stroke": {"scale": "color", "field": "value"}, "shape": {"value": "M-1,0L1,0M0.25,0A0.25,0.25,0,1,1,-0.25,0A0.25,0.25,0,1,1,0.25,0Z"}, "size": {"value": 1369}, "strokeWidth": {"value": 3}, "opacity": {"value": 1}}}}}}
      },
      "layer": [
        {"mark": {"type": "point", "opacity": 0}, "encoding": {"color": {"value": "white"}, "y": {"field": "v", "type": "quantitative", "axis": {"title": null, "orient": "left", "values": [-0.45, -0.15, 0.15, 0.45], "labels": false, "ticks": false, "gridWidth": 1.2, "gridColor": "#EFEFEF"}}}},
        {"transform": [{"filter": "datum.x === '1A' && isValid(datum.v)"}], "mark": {"type": "rule", "strokeDash": [11, 11], "strokeWidth": 2.8}, "encoding": {"x": {"datum": "1A", "type": "ordinal"}, "x2": {"datum": "1a.P"}}},
        {"mark": {"type": "line", "strokeWidth": 3, "invalid": "break-paths-filter-domains"}},
        {"mark": {"type": "point", "filled": true, "size": 130, "opacity": 1}}
      ],
      "resolve": {"axis": {"y": "independent"}}
    },
    {
      "data": {"name": "aM"},
      "title": {"text": "aM(W)", "fontWeight": 400},
      "width": 1113,
      "height": 345,
      "encoding": {
        "x": {"field": "x", "type": "ordinal", "sort": ["1A","2A","3A","4A","1B","2B","3B","4B","2C","4C","2D","4D","1A.SM","1A.P","1a","2a","3a","4a","1b","2b","3b","4b","1c","2c","3c","4c","1d","2d","3d","4d","1a.SM","1a.P"], "scale": {"type": "point", "padding": 0.6}, "axis": {"title": null}},
        "y": {"field": "v", "type": "quantitative", "scale": {"domain": [-0.738, 0.774], "nice": false, "zero": false}, "axis": {"title": null, "orient": "left", "values": [-0.4, 0, 0.4], "labelExpr": "replace(format(datum.value, '.1f'), '\u2212', '-')"}},
        "color": {"field": "o", "type": "nominal", "scale": {"domain": ["NegDA","NegEA","PA","WA","CB","EB"], "range": ["#14639E","#B2372A","#F2BC42","#6BB04E","#6E69A6","#6690A4"]}, "legend": {"orient": "none", "legendX": 924, "legendY": 998, "title": "outcome", "encode": {"symbols": {"update": {"fill": {"scale": "color", "field": "value"}, "stroke": {"scale": "color", "field": "value"}, "shape": {"value": "M-1,0L1,0M0.25,0A0.25,0.25,0,1,1,-0.25,0A0.25,0.25,0,1,1,0.25,0Z"}, "size": {"value": 1369}, "strokeWidth": {"value": 3}, "opacity": {"value": 1}}}}}}
      },
      "layer": [
        {"mark": {"type": "point", "opacity": 0}, "encoding": {"color": {"value": "white"}, "y": {"field": "v", "type": "quantitative", "axis": {"title": null, "orient": "left", "values": [-0.6, -0.2, 0.2, 0.6], "labels": false, "ticks": false, "gridWidth": 1.2, "gridColor": "#EFEFEF"}}}},
        {"transform": [{"filter": "datum.x === '1A' && isValid(datum.v)"}], "mark": {"type": "rule", "strokeDash": [11, 11], "strokeWidth": 2.8}, "encoding": {"x": {"datum": "1A", "type": "ordinal"}, "x2": {"datum": "1a.P"}}},
        {"mark": {"type": "line", "strokeWidth": 3, "invalid": "break-paths-filter-domains"}},
        {"mark": {"type": "point", "filled": true, "size": 130, "opacity": 1}}
      ],
      "resolve": {"axis": {"y": "independent"}}
    },
    {
      "data": {"name": "pMF"},
      "title": {"text": "pMF(W)", "fontWeight": 400},
      "width": 1114,
      "height": 346,
      "encoding": {
        "x": {"field": "x", "type": "ordinal", "sort": ["1A","2A","3A","4A","1B","2B","3B","4B","2C","4C","2D","4D","1A.SF","1a","2a","3a","4a","1b","2b","3b","4b","1c","2c","3c","4c","1d","2d","3d","4d","1a.SF"], "scale": {"type": "point", "padding": 0.6}, "axis": {"title": null}},
        "y": {"field": "v", "type": "quantitative", "scale": {"domain": [-0.396, 0.184], "nice": false, "zero": false}, "axis": {"title": null, "orient": "left", "values": [-0.3, -0.2, -0.1, 0, 0.1], "labelExpr": "replace(format(datum.value, '.1f'), '\u2212', '-')"}},
        "color": {"field": "o", "type": "nominal", "scale": {"domain": ["NegDA","NegEA","PA","WA","CB","EB"], "range": ["#14639E","#B2372A","#F2BC42","#6BB04E","#6E69A6","#6690A4"]}, "legend": {"orient": "none", "legendX": 924, "legendY": 998, "title": "outcome", "encode": {"symbols": {"update": {"fill": {"scale": "color", "field": "value"}, "stroke": {"scale": "color", "field": "value"}, "shape": {"value": "M-1,0L1,0M0.25,0A0.25,0.25,0,1,1,-0.25,0A0.25,0.25,0,1,1,0.25,0Z"}, "size": {"value": 1369}, "strokeWidth": {"value": 3}, "opacity": {"value": 1}}}}}}
      },
      "layer": [
        {"mark": {"type": "point", "opacity": 0}, "encoding": {"color": {"value": "white"}, "y": {"field": "v", "type": "quantitative", "axis": {"title": null, "orient": "left", "values": [-0.35, -0.25, -0.15, -0.05, 0.05, 0.15], "labels": false, "ticks": false, "gridWidth": 1.2, "gridColor": "#EFEFEF"}}}},
        {"transform": [{"filter": "datum.x === '1A' && isValid(datum.v)"}], "mark": {"type": "rule", "strokeDash": [11, 11], "strokeWidth": 2.8}, "encoding": {"x": {"datum": "1A", "type": "ordinal"}, "x2": {"datum": "1a.SF"}}},
        {"mark": {"type": "line", "strokeWidth": 3, "invalid": "break-paths-filter-domains"}},
        {"mark": {"type": "point", "filled": true, "size": 130, "opacity": 1}}
      ],
      "resolve": {"axis": {"y": "independent"}}
    },
    {
      "data": {"name": "pFM"},
      "title": {"text": "pFM(W)", "fontWeight": 400},
      "width": 1113,
      "height": 346,
      "encoding": {
        "x": {"field": "x", "type": "ordinal", "sort": ["1A","2A","3A","4A","1B","2B","3B","4B","2C","4C","2D","4D","1A.SM","1a","2a","3a","4a","1b","2b","3b","4b","1c","2c","3c","4c","1d","2d","3d","4d","1a.SM"], "scale": {"type": "point", "padding": 0.6}, "axis": {"title": null}},
        "y": {"field": "v", "type": "quantitative", "scale": {"domain": [-0.697, 0.343], "nice": false, "zero": false}, "axis": {"title": null, "orient": "left", "values": [-0.5, -0.25, 0, 0.25], "labelExpr": "replace(format(datum.value, '.2f'), '\u2212', '-')"}},
        "color": {"field": "o", "type": "nominal", "scale": {"domain": ["NegDA","NegEA","PA","WA","CB","EB"], "range": ["#14639E","#B2372A","#F2BC42","#6BB04E","#6E69A6","#6690A4"]}, "legend": {"orient": "none", "legendX": 924, "legendY": 998, "title": "outcome", "encode": {"symbols": {"update": {"fill": {"scale": "color", "field": "value"}, "stroke": {"scale": "color", "field": "value"}, "shape": {"value": "M-1,0L1,0M0.25,0A0.25,0.25,0,1,1,-0.25,0A0.25,0.25,0,1,1,0.25,0Z"}, "size": {"value": 1369}, "strokeWidth": {"value": 3}, "opacity": {"value": 1}}}}}}
      },
      "layer": [
        {"mark": {"type": "point", "opacity": 0}, "encoding": {"color": {"value": "white"}, "y": {"field": "v", "type": "quantitative", "axis": {"title": null, "orient": "left", "values": [-0.625, -0.375, -0.125, 0.125], "labels": false, "ticks": false, "gridWidth": 1.2, "gridColor": "#EFEFEF"}}}},
        {"transform": [{"filter": "datum.x === '1A' && isValid(datum.v)"}], "mark": {"type": "rule", "strokeDash": [11, 11], "strokeWidth": 2.8}, "encoding": {"x": {"datum": "1A", "type": "ordinal"}, "x2": {"datum": "1a.SM"}}},
        {"mark": {"type": "line", "strokeWidth": 3, "invalid": "break-paths-filter-domains"}},
        {"mark": {"type": "point", "filled": true, "size": 130, "opacity": 1}}
      ],
      "resolve": {"axis": {"y": "independent"}}
    }
  ],
  "resolve": {"scale": {"color": "shared"}},
  "config": {
    "font": "Liberation Sans",
    "view": {"stroke": "#B3B3B3", "strokeWidth": 2},
    "style": {"group-title": {"fontWeight": 400, "fontSize": 27}},
    "axis": {"domain": false, "labelFont": "Liberation Sans", "labelFontSize": 22, "labelColor": "#4D4D4D", "tickColor": "#333333", "tickSize": 7, "tickWidth": 2, "gridColor": "#EBEBEB", "gridWidth": 2.2, "labelOverlap": false, "labelFlush": false, "labelBound": false},
    "axisX": {"grid": false, "labelAngle": -45, "labelAlign": "right", "labelBaseline": "top", "labelPadding": 3},
    "axisY": {"grid": true, "labelPadding": 5},
    "title": {"font": "Liberation Sans", "fontSize": 27, "fontWeight": 400, "color": "#000000", "anchor": "middle", "offset": 9},
    "legend": {"titleOrient": "left", "titleAnchor": "middle", "titleBaseline": "middle", "titleFont": "Liberation Sans", "titleFontSize": 26, "titleFontWeight": "normal", "titleColor": "#000000", "titlePadding": 14, "columns": 3, "columnPadding": 8, "rowPadding": 28, "labelFont": "Liberation Sans", "labelFontSize": 22, "labelColor": "#000000", "labelOffset": 16, "symbolSize": 1369, "symbolStrokeWidth": 3}
  }
}
